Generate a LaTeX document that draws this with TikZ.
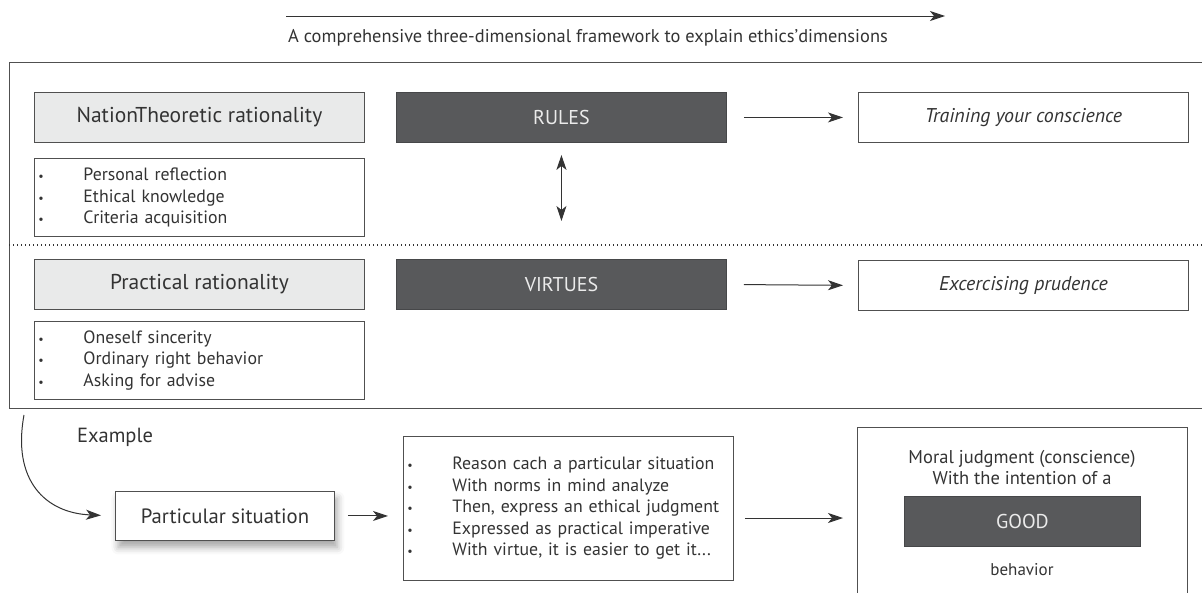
\documentclass[tikz,border=0pt]{standalone}
\usepackage{fontspec}
\setmainfont{PT Sans}
\usetikzlibrary{arrows.meta,shadows.blur}
\definecolor{ink}{HTML}{333333}
\definecolor{darkfill}{HTML}{58595B}
\definecolor{lightfill}{HTML}{E9EAEA}
\definecolor{edge}{HTML}{505050}
\tikzset{
 box/.style={draw=edge, line width=0.9pt, minimum width=330pt, minimum height=50pt, inner sep=0pt, text=ink, font=\fontsize{21.5}{25}\selectfont},
 lightbox/.style={box, fill=lightfill},
 darkbox/.style={box, fill=darkfill, draw=darkfill!80!black, text=white!92!black, font=\fontsize{20}{24}\selectfont},
 listbox/.style={draw=edge, line width=0.9pt, text width=322pt, inner xsep=4pt, inner ysep=0pt, align=left, text=ink, font=\fontsize{17.8}{21.5}\selectfont},
 arr/.style={-{Stealth[length=15pt,width=10pt,inset=4pt]}, line width=1pt, draw=ink},
 dblarr/.style={{Stealth[length=15pt,width=10pt,inset=4pt]}-{Stealth[length=15pt,width=10pt,inset=4pt]}, line width=1pt, draw=ink},
 plain/.style={text=ink, font=\fontsize{18.5}{22}\selectfont, inner sep=0pt},
}
\newcommand{\bul}{\makebox[45pt][l]{\fontsize{12}{12}\selectfont\textbullet}}
\begin{document}
\begin{tikzpicture}[x=1pt,y=-1pt]
\useasboundingbox (0,0) rectangle (1202,592);
% title arrow
\coordinate (ta) at (286,16);
\coordinate (tb) at (945,16);
\draw[arr] (ta) -- (tb);
\node[plain, font=\fontsize{18.4}{22}\selectfont] (title) at (588,38) {A comprehensive three-dimensional framework to explain ethics'dimensions};
% frame
\draw[draw=edge, line width=0.9pt] (1202,62) -- (9,62) -- (9,408) -- (1202,408);
\draw[draw=ink, line width=1.3pt, dash pattern=on 1.3pt off 2.7pt] (9,245) -- (1202,245);
% left column
\node[lightbox, anchor=north west] (theo) at (34,92) {NationTheoretic rationality};
\node[listbox, minimum height=78pt, anchor=north west] (list1) at (34,158) {\bul Personal reflection\\\bul Ethical knowledge\\\bul Criteria acquisition};
\node[lightbox, anchor=north west] (prac) at (34,259) {Practical rationality};
\node[listbox, minimum height=78pt, anchor=north west] (list2) at (34,321) {\bul Oneself sincerity\\\bul Ordinary right behavior\\\bul Asking for advise};
% middle column
\node[darkbox, anchor=north west] (rules) at (396,92) {RULES};
\node[darkbox, anchor=north west] (virt) at (396,259) {VIRTUES};
\draw[dblarr, shorten <=12pt, shorten >=38pt] (rules.south) -- (virt.north);
% right column
\node[box, anchor=north west, font=\fontsize{19.9}{24}\selectfont\itshape] (train) at (858,92) {Training your conscience};
\node[box, anchor=north west, font=\fontsize{19.9}{24}\selectfont\itshape] (prud) at (858,260) {Excercising prudence};
\draw[arr, shorten <=17pt, shorten >=15pt] (rules.east) -- (train.west);
\draw[arr, shorten <=17pt, shorten >=15pt] (virt.east) -- (prud.west);
% bottom row
\coordinate (c1) at (24,415);
\node[plain, font=\fontsize{20.5}{24}\selectfont] (ex) at (115,437) {Example};
\node[box, minimum width=219pt, minimum height=49pt, fill=white, anchor=north west, font=\fontsize{20.7}{24}\selectfont,
  blur shadow={shadow xshift=3pt, shadow yshift=-7pt, shadow blur radius=7pt, shadow opacity=35}] (part) at (115,491) {Particular situation};
\draw[arr, shorten >=14pt] (c1) .. controls (12,480) and (45,513) .. (part.west);
\node[listbox, minimum height=144pt, anchor=north west] (list3) at (403,436) {\bul Reason cach a particular situation\\\bul With norms in mind analyze\\\bul Then, express an ethical judgment\\\bul Expressed as practical imperative\\\bul With virtue, it is easier to get it...};
\draw[arr, shorten <=13pt, shorten >=15pt] (part.east) -- (list3.west |- part.east);
\coordinate (gtl) at (857,427);
\coordinate (gtr) at (1187,427);
\coordinate (gbl) at (857,594);
\coordinate (gbr) at (1187,594);
\draw[draw=edge, line width=0.9pt] (gbl) -- (gtl) -- (gtr) -- (gbr);
\node[plain, align=center, font=\fontsize{18.5}{21}\selectfont] (moral) at (1022,468) {Moral judgment (conscience)\\With the intention of a};
\node[darkbox, minimum width=236pt, anchor=north west] (good) at (904,496) {GOOD};
\node[plain, font=\fontsize{17}{21}\selectfont] (beh) at (1022,570) {behavior};
\draw[arr, shorten <=11pt, shorten >=14pt] (list3.east |- 0,518) -- (gtl |- 0,518);
\end{tikzpicture}
\end{document}
